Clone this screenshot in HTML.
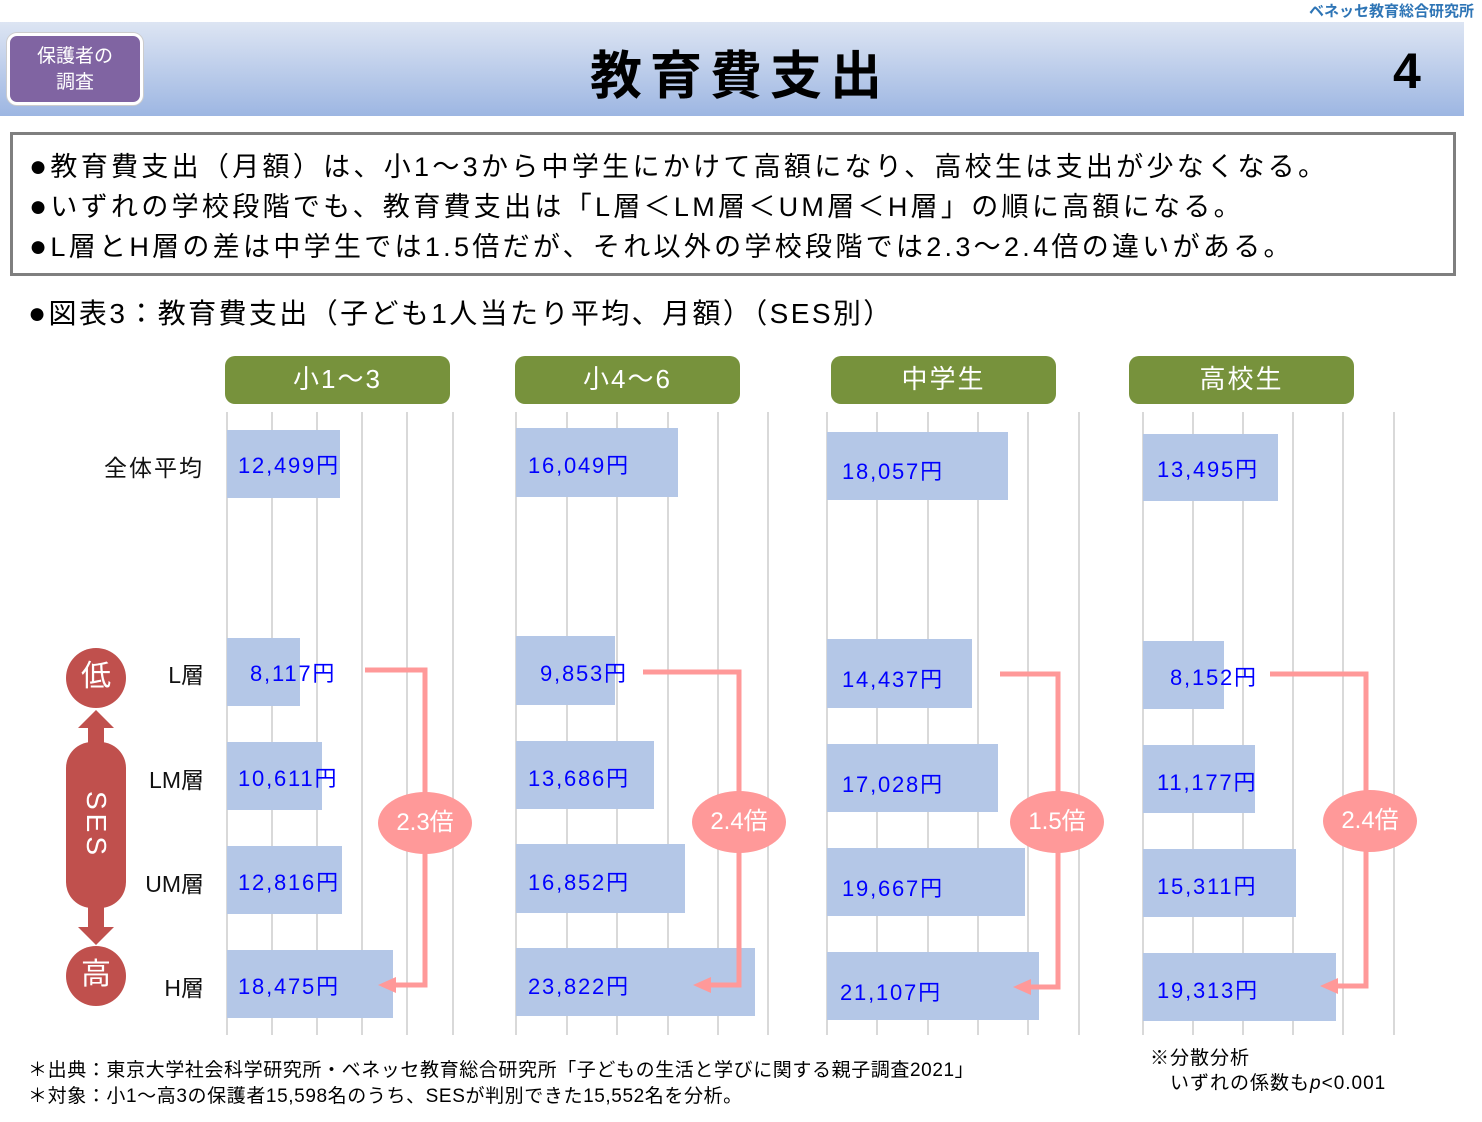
<!DOCTYPE html>
<html><head><meta charset="utf-8"><style>
body{margin:0;width:1482px;height:1122px;background:#fff;position:relative;overflow:hidden;font-family:"Liberation Sans","Noto Sans CJK JP",sans-serif}
.a{position:absolute}
.g{position:absolute;top:412px;height:623px;width:2px;background:#d9d9d9}
.b{position:absolute;background:#b4c7e7}
.v{position:absolute;color:#0000ff;font-size:22px;white-space:nowrap;letter-spacing:1.8px}
.h{position:absolute;top:356px;height:48px;width:225px;background:#77923c;border-radius:10px;color:#fff;font-size:26px;text-align:center;line-height:46px;letter-spacing:2px}
.l{position:absolute;font-size:23px;color:#111;text-align:right;width:110px}
.e{position:absolute;width:94px;height:62px;border-radius:50%;background:#ff9999;color:#fff;font-size:24px;text-align:center;line-height:62px}
.k{font-size:30px}
</style></head><body>
<div class="a" style="right:8px;top:0;font-size:15px;color:#2e75b6;font-weight:bold">ベネッセ教育総合研究所</div>
<div class="a" style="left:0;top:22px;width:1464px;height:94px;background:linear-gradient(#dde5f3,#9db6e2)"></div>
<div class="a" style="left:7px;top:33px;width:136px;height:72px;background:#8064a2;border:3px solid #fff;border-radius:10px;color:#fff;font-size:19px;text-align:center;line-height:26px;padding-top:8px;box-sizing:border-box;box-shadow:0 0 0 1px #ccc">保護者の<br>調査</div>
<div class="a" style="left:590px;top:34px;font-size:52px;font-weight:bold;letter-spacing:8px">教育費支出</div>
<div class="a" style="left:1393px;top:42px;font-size:50px;font-weight:bold">4</div>
<div class="a" style="left:10px;top:132px;border:3px solid #7f7f7f;font-size:27px;line-height:40px;padding:12px 0 0 16px;box-sizing:border-box;width:1446px;height:144px;white-space:nowrap;letter-spacing:3.3px"><span class="k">●</span>教育費支出（月額）は、小1～3から中学生にかけて高額になり、高校生は支出が少なくなる。<br><span class="k">●</span>いずれの学校段階でも、教育費支出は「L層＜LM層＜UM層＜H層」の順に高額になる。<br><span class="k">●</span>L層とH層の差は中学生では1.5倍だが、それ以外の学校段階では2.3～2.4倍の違いがある。</div>
<div class="a" style="left:28px;top:292px;font-size:28px;white-space:nowrap;letter-spacing:2.4px"><span class="k">●</span>図表3：教育費支出（子ども1人当たり平均、月額）（SES別）</div>

<div class="h" style="left:225px">小1～3</div>
<div class="h" style="left:515px">小4～6</div>
<div class="h" style="left:831px">中学生</div>
<div class="h" style="left:1129px">高校生</div>

<div class="g" style="left:226px"></div><div class="g" style="left:271px"></div><div class="g" style="left:316px"></div><div class="g" style="left:361px"></div><div class="g" style="left:406px"></div><div class="g" style="left:452px"></div>
<div class="g" style="left:515px"></div><div class="g" style="left:566px"></div><div class="g" style="left:616px"></div><div class="g" style="left:667px"></div><div class="g" style="left:717px"></div><div class="g" style="left:767px"></div>
<div class="g" style="left:826px"></div><div class="g" style="left:876px"></div><div class="g" style="left:927px"></div><div class="g" style="left:977px"></div><div class="g" style="left:1027px"></div><div class="g" style="left:1078px"></div>
<div class="g" style="left:1142px"></div><div class="g" style="left:1192px"></div><div class="g" style="left:1242px"></div><div class="g" style="left:1292px"></div><div class="g" style="left:1342px"></div><div class="g" style="left:1393px"></div>

<div class="b" style="left:227px;width:113px;top:430px;height:68px"></div>
<div class="b" style="left:227px;width:73px;top:638px;height:68px"></div>
<div class="b" style="left:227px;width:95px;top:742px;height:68px"></div>
<div class="b" style="left:227px;width:115px;top:846px;height:68px"></div>
<div class="b" style="left:227px;width:166px;top:950px;height:68px"></div>
<div class="b" style="left:516px;width:162px;top:428px;height:69px"></div>
<div class="b" style="left:516px;width:99px;top:636px;height:69px"></div>
<div class="b" style="left:516px;width:138px;top:741px;height:68px"></div>
<div class="b" style="left:516px;width:169px;top:844px;height:69px"></div>
<div class="b" style="left:516px;width:239px;top:948px;height:68px"></div>
<div class="b" style="left:827px;width:181px;top:432px;height:68px"></div>
<div class="b" style="left:827px;width:145px;top:639px;height:69px"></div>
<div class="b" style="left:827px;width:171px;top:744px;height:68px"></div>
<div class="b" style="left:827px;width:198px;top:848px;height:68px"></div>
<div class="b" style="left:827px;width:212px;top:952px;height:68px"></div>
<div class="b" style="left:1143px;width:135px;top:434px;height:67px"></div>
<div class="b" style="left:1143px;width:81px;top:641px;height:68px"></div>
<div class="b" style="left:1143px;width:112px;top:745px;height:68px"></div>
<div class="b" style="left:1143px;width:153px;top:849px;height:68px"></div>
<div class="b" style="left:1143px;width:193px;top:953px;height:68px"></div>

<div class="v" style="left:238px;top:448px">12,499円</div>
<div class="v" style="left:250px;top:656px">8,117円</div>
<div class="v" style="left:238px;top:761px">10,611円</div>
<div class="v" style="left:238px;top:865px">12,816円</div>
<div class="v" style="left:238px;top:969px">18,475円</div>
<div class="v" style="left:528px;top:448px">16,049円</div>
<div class="v" style="left:540px;top:656px">9,853円</div>
<div class="v" style="left:528px;top:761px">13,686円</div>
<div class="v" style="left:528px;top:865px">16,852円</div>
<div class="v" style="left:528px;top:969px">23,822円</div>
<div class="v" style="left:842px;top:454px">18,057円</div>
<div class="v" style="left:842px;top:662px">14,437円</div>
<div class="v" style="left:842px;top:767px">17,028円</div>
<div class="v" style="left:842px;top:871px">19,667円</div>
<div class="v" style="left:840px;top:975px">21,107円</div>
<div class="v" style="left:1157px;top:452px">13,495円</div>
<div class="v" style="left:1170px;top:660px">8,152円</div>
<div class="v" style="left:1157px;top:765px">11,177円</div>
<div class="v" style="left:1157px;top:869px">15,311円</div>
<div class="v" style="left:1157px;top:973px">19,313円</div>

<svg class="a" style="left:0;top:0" width="1482" height="1122">
<g fill="none" stroke="#ff9999" stroke-width="5">
<polyline points="365,670 425,670 425,985 392,985"/>
<polyline points="643,672 739,672 739,985 708,985"/>
<polyline points="1000,674 1058,674 1058,987 1028,987"/>
<polyline points="1270,674 1366,674 1366,986 1335,986"/>
</g>
<g fill="#ff9999">
<polygon points="378,985 396,977 396,993"/><polygon points="693,985 711,977 711,993"/>
<polygon points="1013,987 1031,979 1031,995"/><polygon points="1320,986 1338,978 1338,994"/>
</g>
<g fill="#c0504d">
<polygon points="96,710 114,728 104,728 104,745 88,745 88,728 78,728"/>
<polygon points="96,945 114,927 104,927 104,905 88,905 88,927 78,927"/>
</g>
</svg>
<div class="e" style="left:378px;top:792px">2.3倍</div>
<div class="e" style="left:692px;top:791px">2.4倍</div>
<div class="e" style="left:1010px;top:791px">1.5倍</div>
<div class="e" style="left:1323px;top:790px">2.4倍</div>

<div class="l" style="left:94px;top:449px;letter-spacing:2px">全体平均</div>
<div class="l" style="left:94px;top:656px">L層</div>
<div class="l" style="left:94px;top:761px">LM層</div>
<div class="l" style="left:94px;top:865px">UM層</div>
<div class="l" style="left:94px;top:969px">H層</div>

<div class="a" style="left:66px;top:648px;width:60px;height:60px;border-radius:50%;background:#c0504d;color:#fff;font-size:30px;text-align:center;line-height:58px">低</div>
<div class="a" style="left:66px;top:946px;width:60px;height:60px;border-radius:50%;background:#c0504d;color:#fff;font-size:30px;text-align:center;line-height:58px">高</div>
<div class="a" style="left:66px;top:742px;width:60px;height:166px;border-radius:26px;background:#c0504d"></div>
<div class="a" style="left:66px;top:742px;width:60px;height:166px;color:#fff;font-size:28px;display:flex;align-items:center;justify-content:center"><span style="transform:rotate(90deg);display:inline-block;letter-spacing:4px">SES</span></div>

<div class="a" style="left:28px;top:1058px;font-size:19px;line-height:26px;white-space:nowrap;letter-spacing:0.6px">＊出典：東京大学社会科学研究所・ベネッセ教育総合研究所「子どもの生活と学びに関する親子調査2021」<br>＊対象：小1～高3の保護者15,598名のうち、SESが判別できた15,552名を分析。</div>
<div class="a" style="left:1150px;top:1046px;font-size:19px;line-height:25px;white-space:nowrap;letter-spacing:1px">※分散分析<br>　いずれの係数も<i>p</i>&lt;0.001</div>
</body></html>
